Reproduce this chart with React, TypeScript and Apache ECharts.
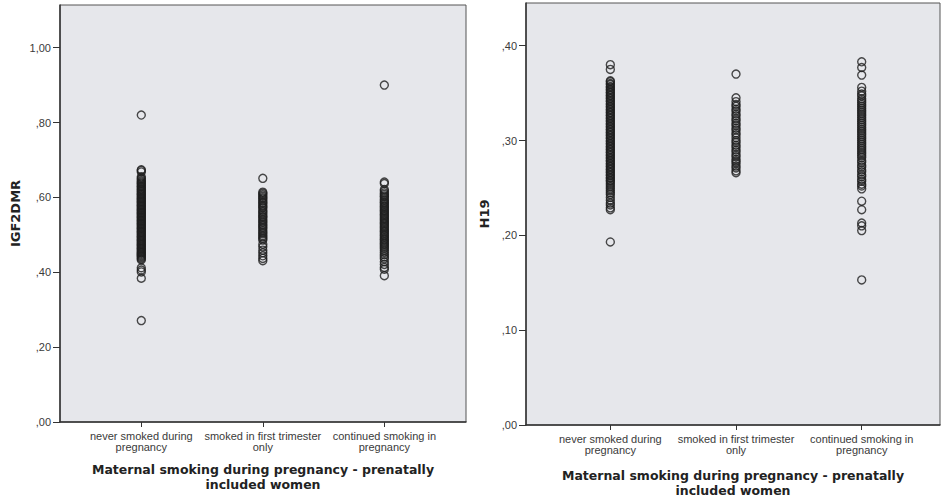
import React, { useEffect, useRef } from "react";
import * as echarts from "echarts";

// Group labels on the x axis (positions 1, 2, 3)
const categories = [
  "never smoked during\npregnancy",
  "smoked in first trimester\nonly",
  "continued smoking in\npregnancy",
];

const xTitle = "Maternal smoking during pregnancy - prenatally\nincluded women";

// IGF2DMR methylation values per group
const igfNever = [
  0.820, 0.674, 0.672, 0.668, 0.655, 0.651, 0.648, 0.644, 0.641, 0.638, 0.636, 0.632, 0.629,
  0.627, 0.623, 0.621, 0.618, 0.615, 0.612, 0.609, 0.607, 0.604, 0.601, 0.598, 0.596, 0.593,
  0.590, 0.588, 0.585, 0.582, 0.579, 0.577, 0.574, 0.571, 0.568, 0.566, 0.563, 0.560, 0.558,
  0.555, 0.552, 0.549, 0.547, 0.544, 0.541, 0.538, 0.536, 0.533, 0.530, 0.528, 0.525, 0.522,
  0.519, 0.517, 0.514, 0.511, 0.508, 0.506, 0.503, 0.500, 0.497, 0.495, 0.492, 0.489, 0.486,
  0.484, 0.481, 0.478, 0.475, 0.473, 0.470, 0.467, 0.464, 0.462, 0.459, 0.456, 0.453, 0.451,
  0.448, 0.445, 0.442, 0.439, 0.436, 0.433, 0.412, 0.406, 0.401, 0.384, 0.271,
];
const igfFirstTrimester = [
  0.651, 0.614, 0.611, 0.607, 0.603, 0.599, 0.596, 0.591, 0.587, 0.584, 0.579, 0.575, 0.572,
  0.566, 0.562, 0.558, 0.553, 0.549, 0.546, 0.541, 0.537, 0.533, 0.528, 0.524, 0.520, 0.516,
  0.511, 0.507, 0.503, 0.498, 0.494, 0.490, 0.486, 0.475, 0.468, 0.459, 0.452, 0.444, 0.437,
  0.431,
];
const igfContinued = [
  0.900, 0.641, 0.637, 0.621, 0.617, 0.612, 0.608, 0.604, 0.601, 0.596, 0.592, 0.588, 0.585,
  0.581, 0.577, 0.574, 0.570, 0.566, 0.563, 0.559, 0.555, 0.552, 0.548, 0.544, 0.541, 0.537,
  0.533, 0.530, 0.526, 0.522, 0.519, 0.515, 0.511, 0.508, 0.504, 0.500, 0.497, 0.493, 0.489,
  0.486, 0.482, 0.478, 0.475, 0.471, 0.467, 0.463, 0.458, 0.453, 0.447, 0.441, 0.436, 0.428,
  0.421, 0.413, 0.408, 0.391,
];

// H19 methylation values per group
const h19Never = [
  0.380, 0.375, 0.363, 0.362, 0.360, 0.359, 0.357, 0.356, 0.354, 0.353, 0.351, 0.350, 0.348,
  0.347, 0.345, 0.344, 0.342, 0.341, 0.339, 0.338, 0.336, 0.335, 0.333, 0.332, 0.330, 0.329,
  0.327, 0.326, 0.324, 0.323, 0.321, 0.320, 0.318, 0.317, 0.315, 0.314, 0.312, 0.311, 0.309,
  0.308, 0.306, 0.305, 0.303, 0.302, 0.300, 0.299, 0.297, 0.296, 0.294, 0.293, 0.291, 0.290,
  0.288, 0.287, 0.285, 0.284, 0.282, 0.281, 0.279, 0.278, 0.276, 0.275, 0.273, 0.272, 0.270,
  0.269, 0.267, 0.266, 0.264, 0.263, 0.261, 0.260, 0.258, 0.257, 0.255, 0.253, 0.251, 0.249,
  0.247, 0.245, 0.243, 0.240, 0.237, 0.234, 0.232, 0.229, 0.227, 0.193,
];
const h19FirstTrimester = [
  0.370, 0.345, 0.341, 0.338, 0.336, 0.333, 0.331, 0.328, 0.326, 0.323, 0.321, 0.318, 0.316,
  0.313, 0.311, 0.308, 0.306, 0.303, 0.300, 0.298, 0.295, 0.293, 0.290, 0.288, 0.285, 0.283,
  0.280, 0.278, 0.276, 0.273, 0.271, 0.268, 0.266,
];
const h19Continued = [
  0.383, 0.377, 0.369, 0.356, 0.352, 0.349, 0.347, 0.344, 0.342, 0.340, 0.338, 0.336, 0.334,
  0.332, 0.330, 0.328, 0.326, 0.324, 0.322, 0.320, 0.318, 0.316, 0.314, 0.312, 0.310, 0.308,
  0.306, 0.304, 0.302, 0.300, 0.298, 0.296, 0.294, 0.292, 0.290, 0.288, 0.286, 0.284, 0.282,
  0.279, 0.277, 0.274, 0.272, 0.269, 0.267, 0.264, 0.262, 0.259, 0.257, 0.254, 0.252, 0.249,
  0.236, 0.227, 0.213, 0.210, 0.205, 0.153,
];

const igfTicks = [0, 0.2, 0.4, 0.6, 0.8, 1.0];
const h19Ticks = [0, 0.1, 0.2, 0.3, 0.4];

const LABEL_FONT = "'Liberation Sans', Arial, sans-serif";
const TITLE_FONT = "'DejaVu Sans', Tahoma, sans-serif";
const PLOT_BG = "#e6e7eb";
const INK = "#1e1e1e";

// SPSS-style decimal comma without leading zero: 0.4 -> ",40", 1 -> "1,00"
const fmtComma = (v: number) => {
  const s = v.toFixed(2).replace(".", ",");
  return s.startsWith("0,") ? s.slice(1) : s;
};

const toPoints = (x: number, values: number[]) => values.map((v) => [x, v]);

export default function App() {
  const ref = useRef<HTMLDivElement>(null);

  useEffect(() => {
    if (!ref.current) return;
    const chart = echarts.init(ref.current, null, { renderer: "svg" });

    const xAxisBase = (gridIndex: number, min: number, max: number, nameGap: number) => ({
      type: "value" as const,
      gridIndex,
      min,
      max,
      name: xTitle,
      nameLocation: "middle" as const,
      nameGap,
      nameTextStyle: {
        fontFamily: TITLE_FONT,
        fontWeight: "bold" as const,
        fontSize: 12.5,
        color: "#222",
        lineHeight: 15,
      },
      axisLine: { show: true, onZero: false, lineStyle: { color: "#333", width: 1.5 } },
      axisTick: {
        show: true,
        customValues: [1, 2, 3],
        length: 5,
        lineStyle: { color: "#333" },
      },
      axisLabel: {
        customValues: [1, 2, 3],
        formatter: (v: number) => categories[Math.round(v) - 1] ?? "",
        fontFamily: LABEL_FONT,
        fontSize: 11,
        lineHeight: 11,
        color: "#3a3a3a",
        margin: 8,
      },
      splitLine: { show: false },
    });

    const yAxisBase = (
      gridIndex: number,
      max: number,
      interval: number,
      ticks: number[],
      name: string,
      nameGap: number
    ) => ({
      type: "value" as const,
      gridIndex,
      min: 0,
      max,
      interval,
      name,
      nameLocation: "middle" as const,
      nameGap,
      nameTextStyle: {
        fontFamily: TITLE_FONT,
        fontWeight: "bold" as const,
        fontSize: 13,
        color: "#222",
      },
      axisLine: { show: true, onZero: false, lineStyle: { color: "#333", width: 1.5 } },
      axisTick: {
        show: true,
        customValues: ticks,
        length: 7,
        lineStyle: { color: "#333" },
      },
      axisLabel: {
        customValues: ticks,
        formatter: (v: number) => fmtComma(v),
        fontFamily: LABEL_FONT,
        fontSize: 11,
        color: "#3a3a3a",
        margin: 9,
      },
      splitLine: { show: false },
    });

    const scatter = (axisIndex: number, x: number, values: number[]) => ({
      type: "scatter" as const,
      xAxisIndex: axisIndex,
      yAxisIndex: axisIndex,
      symbol: "circle",
      symbolSize: 8,
      itemStyle: { color: "rgba(0,0,0,0)", borderColor: INK, borderWidth: 1.4 },
      data: toPoints(x, values),
    });

    chart.setOption({
      animation: false,
      backgroundColor: "#ffffff",
      grid: [
        {
          left: 60,
          top: 5,
          width: 406,
          height: 417,
          show: true,
          backgroundColor: PLOT_BG,
          borderColor: "#555",
          borderWidth: 1,
        },
        {
          left: 526,
          top: 3,
          width: 414,
          height: 424,
          show: true,
          backgroundColor: PLOT_BG,
          borderColor: "#555",
          borderWidth: 1,
        },
      ],
      xAxis: [xAxisBase(0, 0.331, 3.672, 40), xAxisBase(1, 0.329, 3.623, 43)],
      yAxis: [
        yAxisBase(0, 1.114, 0.2, igfTicks, "IGF2DMR", 38),
        yAxisBase(1, 0.445, 0.1, h19Ticks, "H19", 35),
      ],
      series: [
        scatter(0, 1, igfNever),
        scatter(0, 2, igfFirstTrimester),
        scatter(0, 3, igfContinued),
        scatter(1, 1, h19Never),
        scatter(1, 2, h19FirstTrimester),
        scatter(1, 3, h19Continued),
      ],
    });

    return () => chart.dispose();
  }, []);

  return (
    <div
      ref={ref}
      style={{ position: "fixed", left: 0, top: 0, width: 941, height: 503 }}
    />
  );
}
